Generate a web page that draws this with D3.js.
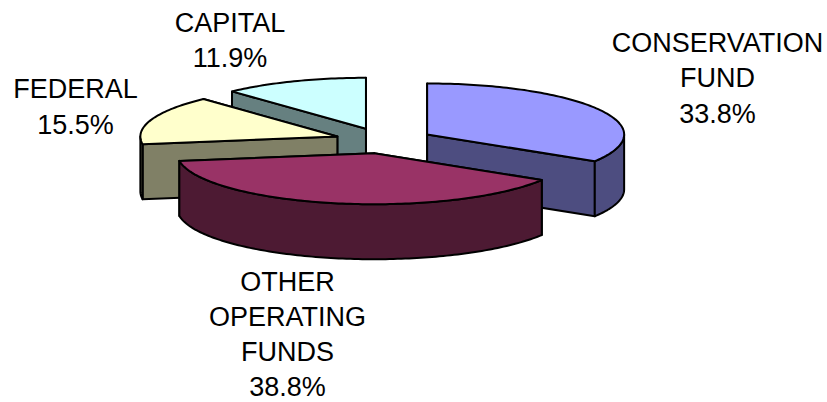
<!DOCTYPE html>
<html>
<head>
<meta charset="utf-8">
<style>
  html, body { margin: 0; padding: 0; background: #fff; }
  text { font-family: "Liberation Sans", Arial, sans-serif; font-size: 27px; fill: #000; text-anchor: middle; }
</style>
<script src="https://cdn.jsdelivr.net/npm/d3@7"></script>
</head>
<body>
<div id="chart"></div>
<script>
// budget shares, clockwise from 12 o'clock
const categories = ['CONSERVATION FUND', 'OTHER OPERATING FUNDS', 'FEDERAL', 'CAPITAL'];
const shares = [33.8, 38.8, 15.5, 11.9];
const labelLines = [
  ['CONSERVATION', 'FUND', '33.8%'],
  ['OTHER', 'OPERATING', 'FUNDS', '38.8%'],
  ['FEDERAL', '15.5%'],
  ['CAPITAL', '11.9%']
];
const topColors = ['#9999ff', '#993366', '#ffffcc', '#ccffff'];
const sideColors = ['#4d4d80', '#4d1a33', '#808066', '#668080'];

const width = 827, height = 402;
const center = { x: 384, y: 140.7 };
const rx = 197, ry = 51, depth = 55, explode = 49.4;
const labelPos = [
  { x: 717.5, y: 52, step: 35.3 },
  { x: 287.5, y: 291.2, step: 35 },  // kept just inside the bottom edge
  { x: 75.5, y: 98, step: 35.5 },
  { x: 230, y: 32, step: 35.3 }
];

const svg = d3.select('#chart').append('svg')
  .attr('width', width).attr('height', height)
  .style('display', 'block');

const pie = d3.pie().sort(null).value(d => d);
const arcs = pie(shares);

// unit circle -> squashed ellipse
const xScale = d3.scaleLinear().domain([-1, 1]).range([-rx, rx]);
const yScale = d3.scaleLinear().domain([-1, 1]).range([-ry, ry]);
const rimPoint = a => [xScale(Math.sin(a)), yScale(-Math.cos(a))];
const line = d3.line();

function sampleAngles(a0, a1) {
  const n = Math.max(2, Math.ceil((a1 - a0) / 0.02));
  return d3.range(n + 1).map(i => a0 + (a1 - a0) * i / n);
}

function drawSlice(d, i) {
  const mid = (d.startAngle + d.endAngle) / 2;
  const g = svg.append('g')
    .attr('transform', `translate(${center.x + explode * Math.sin(mid)},${center.y - explode * (ry / rx) * Math.cos(mid)})`)
    .attr('stroke', '#000').attr('stroke-width', 2).attr('stroke-linejoin', 'round');

  // cut faces, the one that reaches further up the picture goes behind
  [d.startAngle, d.endAngle]
    .sort((a, b) => rimPoint(a)[1] - rimPoint(b)[1])
    .forEach(a => {
      const p = rimPoint(a);
      g.append('path')
        .attr('d', line([[0, 0], p, [p[0], p[1] + depth], [0, depth]]) + 'Z')
        .attr('fill', sideColors[i]);
    });

  // front rim, only the part between 3 and 9 o'clock shows
  const a0 = Math.max(d.startAngle, Math.PI / 2);
  const a1 = Math.min(d.endAngle, 3 * Math.PI / 2);
  if (a1 > a0) {
    const upper = sampleAngles(a0, a1).map(rimPoint);
    const lower = upper.map(p => [p[0], p[1] + depth]).reverse();
    g.append('path')
      .attr('d', line(upper.concat(lower)) + 'Z')
      .attr('fill', sideColors[i]);
  }

  // top face
  const top = [[0, 0]].concat(sampleAngles(d.startAngle, d.endAngle).map(rimPoint));
  g.append('path')
    .attr('d', line(top) + 'Z')
    .attr('fill', topColors[i]);
}

// back slices first, the big front slice last
[3, 2, 0, 1].forEach(i => drawSlice(arcs[i], i));

labelLines.forEach((lines, i) => {
  const t = svg.append('text').attr('aria-label', categories[i]);
  lines.forEach((s, j) => {
    t.append('tspan')
      .attr('x', labelPos[i].x)
      .attr('y', labelPos[i].y + j * labelPos[i].step)
      .text(s);
  });
});
</script>
</body>
</html>
